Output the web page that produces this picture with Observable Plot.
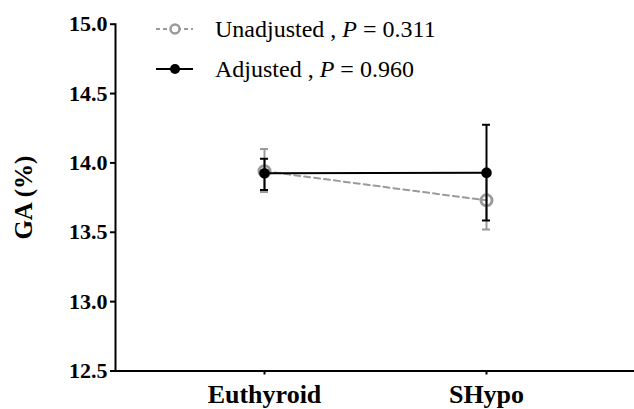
<!DOCTYPE html>
<html>
<head>
<meta charset="utf-8">
<script src="https://cdn.jsdelivr.net/npm/d3@7"></script>
<script src="https://cdn.jsdelivr.net/npm/@observablehq/plot@0.6"></script>
<style>
  html, body { margin: 0; padding: 0; background: #fff; }
  #wrap { position: relative; width: 634px; height: 409px; font-family: "Liberation Serif", "Times New Roman", serif; }
  #legend { position: absolute; left: 156px; top: 9px; font-size: 24px; color: #000; }
  .row { display: flex; align-items: center; height: 40px; white-space: nowrap; }
  .row svg { margin-right: 22px; }
  #wrap svg text { font-family: "Liberation Serif", "Times New Roman", serif; font-variant: normal; }
  #wrap g[aria-label="y-axis label"] { font-size: 25px; }
</style>
</head>
<body>
<div id="wrap">
  <div id="chart"></div>
  <div id="legend"></div>
</div>
<script>
// ---- data ----
const groups = ["Euthyroid", "SHypo"];
const unadjMean = [13.94, 13.73];
const unadjLow  = [13.79, 13.52];
const unadjHigh = [14.10, 13.94];
const adjMean = [13.925, 13.93];
const adjLow  = [13.805, 13.585];
const adjHigh = [14.03, 14.275];
const yTicks = [12.5, 13.0, 13.5, 14.0, 14.5, 15.0];
const seriesNames = ["Unadjusted", "Adjusted"];
const pValues = ["0.311", "0.960"];

const unadj = groups.map((g, i) => ({group: g, mean: unadjMean[i], low: unadjLow[i], high: unadjHigh[i]}));
const adj = groups.map((g, i) => ({group: g, mean: adjMean[i], low: adjLow[i], high: adjHigh[i]}));

const gray = "#9a9a9a";
const serif = "'Liberation Serif', 'Times New Roman', serif";
const capOpts = {insetLeft: -4, insetRight: -4, strokeWidth: 2};

const chart = Plot.plot({
  width: 634,
  height: 409,
  marginLeft: 115,
  marginRight: 0,
  marginTop: 23.7,
  marginBottom: 38.5,
  style: {fontFamily: serif, background: "white", color: "black"},
  x: {type: "point", domain: groups, padding: 0.664},
  y: {domain: [12.5, 15]},
  marks: [
    Plot.ruleY([12.5], {stroke: "black", strokeWidth: 2}),
    Plot.frame({anchor: "left", stroke: "black", strokeWidth: 2}),
    Plot.axisY({ticks: yTicks, tickFormat: d => d.toFixed(1), tickSize: 5, tickPadding: 3,
      fontSize: 22, fontWeight: "bold", fontFamily: serif, strokeWidth: 2,
      label: "GA (%)", labelAnchor: "center", labelArrow: "none", labelOffset: 101}),
    Plot.axisX({tickSize: 4, tickPadding: 10, fontSize: 26, fontWeight: "bold", fontFamily: serif, strokeWidth: 2, label: null}),
    // unadjusted
    Plot.ruleX(unadj, {x: "group", y1: "low", y2: "high", stroke: gray, strokeWidth: 2}),
    Plot.ruleY(unadj, {x1: "group", x2: "group", y: "low", stroke: gray, ...capOpts}),
    Plot.ruleY(unadj, {x1: "group", x2: "group", y: "high", stroke: gray, ...capOpts}),
    Plot.lineY(unadj, {x: "group", y: "mean", stroke: gray, strokeWidth: 2, strokeDasharray: "6,4"}),
    Plot.dot(unadj, {x: "group", y: "mean", r: 5.5, stroke: gray, strokeWidth: 3, fill: "none"}),
    // adjusted
    Plot.ruleX(adj, {x: "group", y1: "low", y2: "high", stroke: "black", strokeWidth: 2}),
    Plot.ruleY(adj, {x1: "group", x2: "group", y: "low", stroke: "black", ...capOpts}),
    Plot.ruleY(adj, {x1: "group", x2: "group", y: "high", stroke: "black", ...capOpts}),
    Plot.lineY(adj, {x: "group", y: "mean", stroke: "black", strokeWidth: 2}),
    Plot.dot(adj, {x: "group", y: "mean", r: 5.3, fill: "black", stroke: "none"})
  ]
});
document.getElementById("chart").appendChild(chart);

// ---- legend ----
const legend = document.getElementById("legend");
const symbols = [
  `<svg width="37" height="20"><line x1="0" y1="10" x2="37" y2="10" stroke="${gray}" stroke-width="2" stroke-dasharray="4,3"/><circle cx="19" cy="10" r="4.5" fill="white" stroke="${gray}" stroke-width="2.5"/></svg>`,
  `<svg width="37" height="20"><line x1="0" y1="10" x2="37" y2="10" stroke="black" stroke-width="2"/><circle cx="19" cy="10" r="5" fill="black"/></svg>`
];
seriesNames.forEach((name, i) => {
  const row = document.createElement("div");
  row.className = "row";
  row.innerHTML = symbols[i] + `<span>${name} , <i>P</i> = ${pValues[i]}</span>`;
  legend.appendChild(row);
});
</script>
</body>
</html>
